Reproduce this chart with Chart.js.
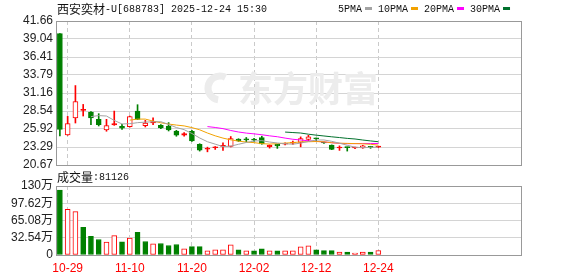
<!DOCTYPE html>
<html>
<head>
<meta charset="utf-8">
<script src="https://cdn.jsdelivr.net/npm/chart.js@4.4.1/dist/chart.umd.min.js"></script>
<style>
  html, body { margin: 0; padding: 0; background: #fff; }
  #wrap { position: relative; width: 578px; height: 276px; }
  #wrap canvas { position: absolute; left: 0; top: 0; }
</style>
</head>
<body>
<div id="wrap">
  <canvas id="kline" width="578" height="276"></canvas>
  <canvas id="vol" width="578" height="276"></canvas>
</div>
<script>
const dates = ['10-28','10-29','10-30','10-31','11-03','11-04','11-05','11-06','11-07','11-10',
  '11-11','11-12','11-13','11-14','11-17','11-18','11-19','11-20','11-21','11-24',
  '11-25','11-26','11-27','11-28','12-01','12-02','12-03','12-04','12-05','12-08',
  '12-09','12-10','12-11','12-12','12-15','12-16','12-17','12-18','12-19','12-22',
  '12-23','12-24'];
const opens = [39.82,25.06,27.52,28.63,28.39,27.33,25.78,26.50,26.31,26.27,
  28.53,26.42,26.79,26.46,26.36,25.63,25.01,25.59,23.67,22.96,
  23.18,23.38,23.38,24.43,24.38,24.40,24.65,23.35,23.67,23.70,
  23.85,23.96,24.39,24.58,23.95,23.56,23.15,23.25,23.15,23.17,
  23.30,23.28];
const highs = [39.82,27.76,32.25,29.50,28.45,28.15,27.33,28.53,26.60,27.80,
  29.46,27.18,27.56,26.55,26.85,25.72,25.40,25.72,23.77,23.27,
  23.36,23.90,24.82,24.50,24.68,24.55,24.87,23.60,23.70,23.90,
  24.14,24.77,25.00,24.60,24.00,23.60,23.46,23.30,23.30,23.55,
  23.40,23.42];
const lows = [24.91,25.00,26.79,27.81,26.56,26.36,25.59,26.45,25.84,26.20,
  27.30,26.21,26.54,25.95,25.63,24.86,24.86,24.10,22.70,22.59,
  22.94,22.80,23.30,24.10,24.04,24.10,23.70,23.13,23.09,23.60,
  23.67,23.32,24.19,24.14,23.80,22.90,22.80,22.70,23.05,23.10,
  23.10,23.20];
const closes = [25.84,26.70,29.93,28.63,27.52,26.56,26.42,26.71,26.03,27.72,
  27.33,26.79,27.00,26.07,25.78,25.01,25.25,24.19,22.84,23.00,
  23.25,23.46,24.53,24.19,24.33,24.30,23.74,23.56,23.46,23.81,
  23.92,24.53,24.77,24.50,23.88,22.94,23.17,23.20,23.18,23.46,
  23.23,23.32];
// volume in 万
const volumes = [122.5,86.1,81.7,52.3,35.1,29.3,24.2,36.4,24.9,31.9,
  42.7,25.5,21.1,21.7,17.9,19.8,11.5,15.9,15.9,7.7,
  9.6,9.6,19.1,9.6,7.7,7.7,11.5,7.7,7.7,7.7,
  7.7,15.3,17.2,9.6,8.3,8.3,5.7,5.7,3.8,5.7,
  5.7,8.11];
const volUp = [0,1,1,0,0,0,1,1,0,1, 0,0,1,0,0,0,1,0,0,1, 1,1,1,0,1,0,0,1,0,1,
  1,1,1,0,0,0,1,0,1,1, 0,1];
const ma5 = [null,null,null,null,27.72,27.87,27.81,27.17,26.65,26.69,
  26.84,26.92,26.97,26.98,26.59,26.13,25.82,25.26,24.61,24.06,
  23.71,23.35,23.42,23.69,23.95,24.16,24.22,24.02,23.88,23.77,
  23.70,23.86,24.10,24.31,24.32,24.12,23.85,23.54,23.27,23.19,
  23.25,23.28];
const ma10 = [null,null,null,null,null,null,null,null,null,27.21,
  27.36,27.36,27.07,26.82,26.64,26.49,26.37,26.12,25.80,25.33,
  24.92,24.59,24.34,24.15,24.01,23.93,23.78,23.72,23.78,23.86,
  23.93,24.04,24.06,24.09,24.05,23.91,23.85,23.82,23.79,23.76,
  23.69,23.57];
const ma20 = [null,null,null,null,null,null,null,null,null,null,
  null,null,null,null,null,null,null,null,null,26.27,
  26.14,25.97,25.70,25.48,25.32,25.21,25.08,24.92,24.79,24.59,
  24.42,24.31,24.20,24.12,24.03,23.92,23.82,23.77,23.79,23.81,
  23.81,23.80];
const ma30 = [null,null,null,null,null,null,null,null,null,null,
  null,null,null,null,null,null,null,null,null,null,
  null,null,null,null,null,null,null,null,null,25.47,
  25.40,25.33,25.16,25.02,24.90,24.78,24.67,24.55,24.46,24.31,
  24.18,24.06];

const priceTicks = [20.67, 23.29, 25.92, 28.54, 31.16, 33.79, 36.41, 39.04, 41.66];
const volTicks = [0, 32.54, 65.08, 97.62, 130.16];
const volTickLabels = ['0', '32.54万', '65.08万', '97.62万', '130万'];
const dateTicks = ['10-29', '11-10', '11-20', '12-02', '12-12', '12-24'];
const maNames = ['5PMA', '10PMA', '20PMA', '30PMA'];
const maColors = ['#a3a3a3', '#f2a200', '#ff00ff', '#00702c'];
const titleText = '西安奕材-U[688783] 2025-12-24 15:30';
const volText = '成交量:81126';
const slots = 60;

const RED = '#ff0000';
const GREEN = '#008000';
const labels = Array.from({ length: slots }, (_, i) => dates[i] || '');
const markIdx = new Set(dateTicks.map(d => dates.indexOf(d)));
const tickFont = { family: '"Liberation Sans", "Noto Sans CJK SC"', size: 12 };

// CJK runs in 12px, the rest in a narrow mono font
function drawMixed(ctx, text, x, y) {
  const parts = text.match(/[\u3400-\u9fff]+|[^\u3400-\u9fff]+/g);
  ctx.textBaseline = 'middle';
  ctx.textAlign = 'left';
  parts.forEach(p => {
    const cjk = /[\u3400-\u9fff]/.test(p);
    ctx.font = cjk ? '12px "Noto Sans CJK SC"' : '10px "Liberation Mono"';
    ctx.fillText(p, x, y);
    x += ctx.measureText(p).width;
  });
}

function drawBox(chart) {
  const { ctx, chartArea: a } = chart;
  ctx.save();
  ctx.strokeStyle = '#999';
  ctx.lineWidth = 1;
  ctx.strokeRect(a.left + 0.5, a.top + 0.5, a.right - a.left - 1, a.bottom - a.top);
  ctx.restore();
}

const mainDecor = {
  id: 'mainDecor',
  beforeDatasetsDraw(chart) {
    const ctx = chart.ctx;
    ctx.save();
    ctx.fillStyle = '#ececec';
    ctx.strokeStyle = '#ececec';
    ctx.font = 'bold 35px "Noto Sans CJK SC"';
    ctx.textBaseline = 'middle';
    ctx.fillText('东方财富', 238, 89);
    ctx.lineWidth = 7;
    ctx.beginPath();
    ctx.arc(220, 88, 12, Math.PI * 0.55, Math.PI * 1.65);
    ctx.stroke();
    ctx.restore();
  },
  afterDraw(chart) {
    const ctx = chart.ctx;
    drawBox(chart);
    ctx.save();
    ctx.fillStyle = '#111';
    drawMixed(ctx, titleText, 57, 9);
    let x = 338;
    maNames.forEach((name, i) => {
      ctx.font = '10px "Liberation Mono"';
      ctx.fillStyle = '#111';
      ctx.textBaseline = 'middle';
      ctx.fillText(name, x, 9);
      x += ctx.measureText(name).width + 3;
      ctx.fillStyle = maColors[i];
      ctx.fillRect(x, 7, 7, 3);
      x += 7 + 6;
    });
    ctx.restore();
  }
};

const volDecor = {
  id: 'volDecor',
  afterDraw(chart) {
    drawBox(chart);
    const ctx = chart.ctx;
    ctx.save();
    ctx.fillStyle = '#111';
    drawMixed(ctx, volText, 57, 177);
    ctx.restore();
  }
};

const candleUp = dates.map((_, i) => closes[i] >= opens[i]);

const xGrid = {
  offset: false,
  drawTicks: false,
  color: ctx => markIdx.has(ctx.index) ? '#cacaca' : 'transparent'
};

new Chart(document.getElementById('kline'), {
  type: 'bar',
  data: {
    labels: labels,
    datasets: [
      ...[ma5, ma10, ma20, ma30].map((d, i) => ({
        type: 'line',
        label: maNames[i],
        data: d,
        borderColor: maColors[i],
        borderWidth: 1,
        pointRadius: 0,
        tension: 0,
        order: 0
      })),
      {
        label: 'body',
        data: dates.map((_, i) => [opens[i], closes[i]]),
        barThickness: 5,
        minBarLength: 1,
        grouped: false,
        borderWidth: 1,
        borderSkipped: false,
        borderColor: candleUp.map(u => u ? RED : GREEN),
        backgroundColor: dates.map((_, i) => !candleUp[i] ? GREEN : (closes[i] - opens[i] < 0.25 ? RED : '#fff')),
        order: 1
      },
      {
        label: 'wick',
        data: dates.map((_, i) => [lows[i], highs[i]]),
        barThickness: 1,
        grouped: false,
        borderWidth: 0,
        backgroundColor: candleUp.map(u => u ? RED : GREEN),
        order: 2
      }
    ]
  },
  options: {
    responsive: false,
    animation: false,
    layout: { padding: { top: 21, right: 56, bottom: 111, left: 0 } },
    plugins: { legend: { display: false }, tooltip: { enabled: false } },
    scales: {
      x: {
        offset: true,
        grid: xGrid,
        border: { display: false, dash: [4, 3] },
        ticks: { display: false },
        afterFit: s => { s.height = 0; }
      },
      y: {
        min: 20.67,
        max: 41.66,
        afterBuildTicks: s => { s.ticks = priceTicks.map(v => ({ value: v })); },
        afterFit: s => { s.width = 56; },
        grid: { color: '#d4d4d4', drawTicks: false },
        border: { display: false },
        ticks: { autoSkip: false, padding: 3, color: '#222', font: tickFont, callback: v => v.toFixed(2) }
      }
    }
  },
  plugins: [mainDecor]
});

new Chart(document.getElementById('vol'), {
  type: 'bar',
  data: {
    labels: labels,
    datasets: [{
      label: 'vol',
      data: volumes,
      barThickness: 5,
      borderWidth: 1,
      borderSkipped: false,
      borderColor: volUp.map(u => u ? RED : GREEN),
      backgroundColor: volUp.map(u => u ? '#fff' : GREEN)
    }]
  },
  options: {
    responsive: false,
    animation: false,
    layout: { padding: { top: 186, right: 56, bottom: 0, left: 0 } },
    plugins: { legend: { display: false }, tooltip: { enabled: false } },
    scales: {
      x: {
        offset: true,
        grid: xGrid,
        border: { display: false, dash: [4, 3] },
        ticks: {
          autoSkip: false,
          maxRotation: 0,
          padding: 6,
          color: RED,
          font: tickFont,
          callback: (v, i) => markIdx.has(i) ? labels[i] : ''
        },
        afterFit: s => { s.height = 21; }
      },
      y: {
        min: 0,
        max: 130.16,
        afterBuildTicks: s => { s.ticks = volTicks.map(v => ({ value: v })); },
        afterFit: s => { s.width = 56; },
        grid: { color: '#d4d4d4', drawTicks: false },
        border: { display: false },
        ticks: { autoSkip: false, padding: 3, color: '#222', font: tickFont, callback: (v, i) => volTickLabels[i] }
      }
    }
  },
  plugins: [volDecor]
});
</script>
</body>
</html>
